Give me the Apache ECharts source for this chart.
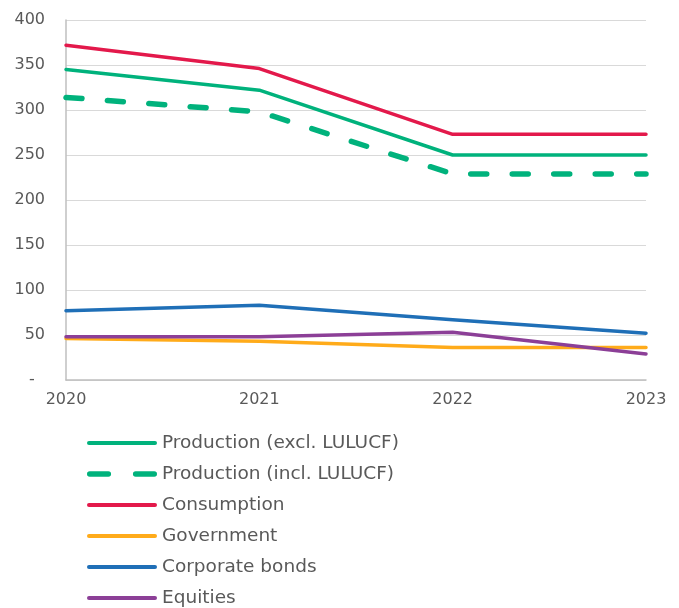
<!DOCTYPE html>
<html>
<head>
<meta charset="utf-8">
<script src="https://cdn.jsdelivr.net/npm/echarts@6/dist/echarts.min.js"></script>
<style>
  html, body { margin: 0; padding: 0; background: #fff; }
  #chart { width: 679px; height: 608px; }
</style>
</head>
<body>
<div id="chart"></div>
<script>
// Emissions by category, 2020–2023
const years = ['2020', '2021', '2022', '2023'];
const productionExcl = [345, 322, 250, 250];
const productionIncl = [314, 298, 229, 229];
const consumption = [372, 346, 273, 273];
const government = [46, 43, 36, 36];
const corporateBonds = [77, 83, 67, 52];
const equities = [48, 48, 53, 29];
const yTicks = [0, 50, 100, 150, 200, 250, 300, 350, 400];

const FONT = 'DejaVu Sans';
const TEXT = '#595959';

// legend keys: a flat bar, and two short bars for the dashed series
const SOLID_KEY = 'path://M2,0 H68 A2,2 0 0 1 68,4 H2 A2,2 0 0 1 2,0 Z';
const DASH_KEY = 'path://M2.5,0 H19.5 A2.5,2.5 0 0 1 19.5,5 H2.5 A2.5,2.5 0 0 1 2.5,0 Z M44.5,0 H61.5 A2.5,2.5 0 0 1 61.5,5 H44.5 A2.5,2.5 0 0 1 44.5,0 Z';

function solid(name, data, color) {
  return {
    name, type: 'line', data, symbol: 'none', smooth: false,
    lineStyle: { color, width: 3.5, cap: 'round', join: 'round' },
    itemStyle: { color },
    emphasis: { disabled: true }
  };
}

const series = [
  solid('Production (excl. LULUCF)', productionExcl, '#00B27C'),
  {
    name: 'Production (incl. LULUCF)', type: 'line', data: productionIncl, symbol: 'none',
    lineStyle: { color: '#00B27C', width: 5.5, type: [16, 25.5], cap: 'round', join: 'round' },
    itemStyle: { color: '#00B27C' },
    emphasis: { disabled: true }
  },
  solid('Consumption', consumption, '#E3194B'),
  solid('Government', government, '#FFAB1A'),
  solid('Corporate bonds', corporateBonds, '#1F6FB7'),
  solid('Equities', equities, '#8C3F97')
];
// draw order: lower categories beneath the top ones
series[3].z = 2; series[5].z = 3; series[4].z = 4;

const chart = echarts.init(document.getElementById('chart'), null, { renderer: 'canvas' });
chart.setOption({
  animation: false,
  backgroundColor: '#ffffff',
  textStyle: { fontFamily: FONT },
  grid: { left: 66, right: 33, top: 20, bottom: 228, containLabel: false },
  xAxis: {
    type: 'category', data: years, boundaryGap: false,
    axisLine: { lineStyle: { color: '#bfbfbf', width: 1.5 } },
    axisTick: { show: false },
    axisLabel: { color: TEXT, fontSize: 16, fontFamily: FONT, margin: 12 },
    splitLine: { show: false }
  },
  yAxis: {
    type: 'value', min: yTicks[0], max: yTicks[yTicks.length - 1], interval: 50,
    axisLine: { show: true, lineStyle: { color: '#bfbfbf', width: 1.5 } },
    axisTick: { show: false },
    axisLabel: {
      color: TEXT, fontSize: 16, fontFamily: FONT, margin: 21,
      // zero is shown as a dash, accounting-style
      formatter: v => (v === 0 ? '-  ' : String(v))
    },
    splitLine: { lineStyle: { color: '#d9d9d9', width: 1 } }
  },
  legend: {
    orient: 'vertical', left: 82, top: 428, height: 180,
    itemWidth: 70, itemHeight: 14, itemGap: 11,
    textStyle: { color: TEXT, fontSize: 18.5, fontFamily: FONT, lineHeight: 20 },
    data: series.map((s, i) => ({ name: s.name, icon: i === 1 ? DASH_KEY : SOLID_KEY }))
  },
  series
});
</script>
</body>
</html>
